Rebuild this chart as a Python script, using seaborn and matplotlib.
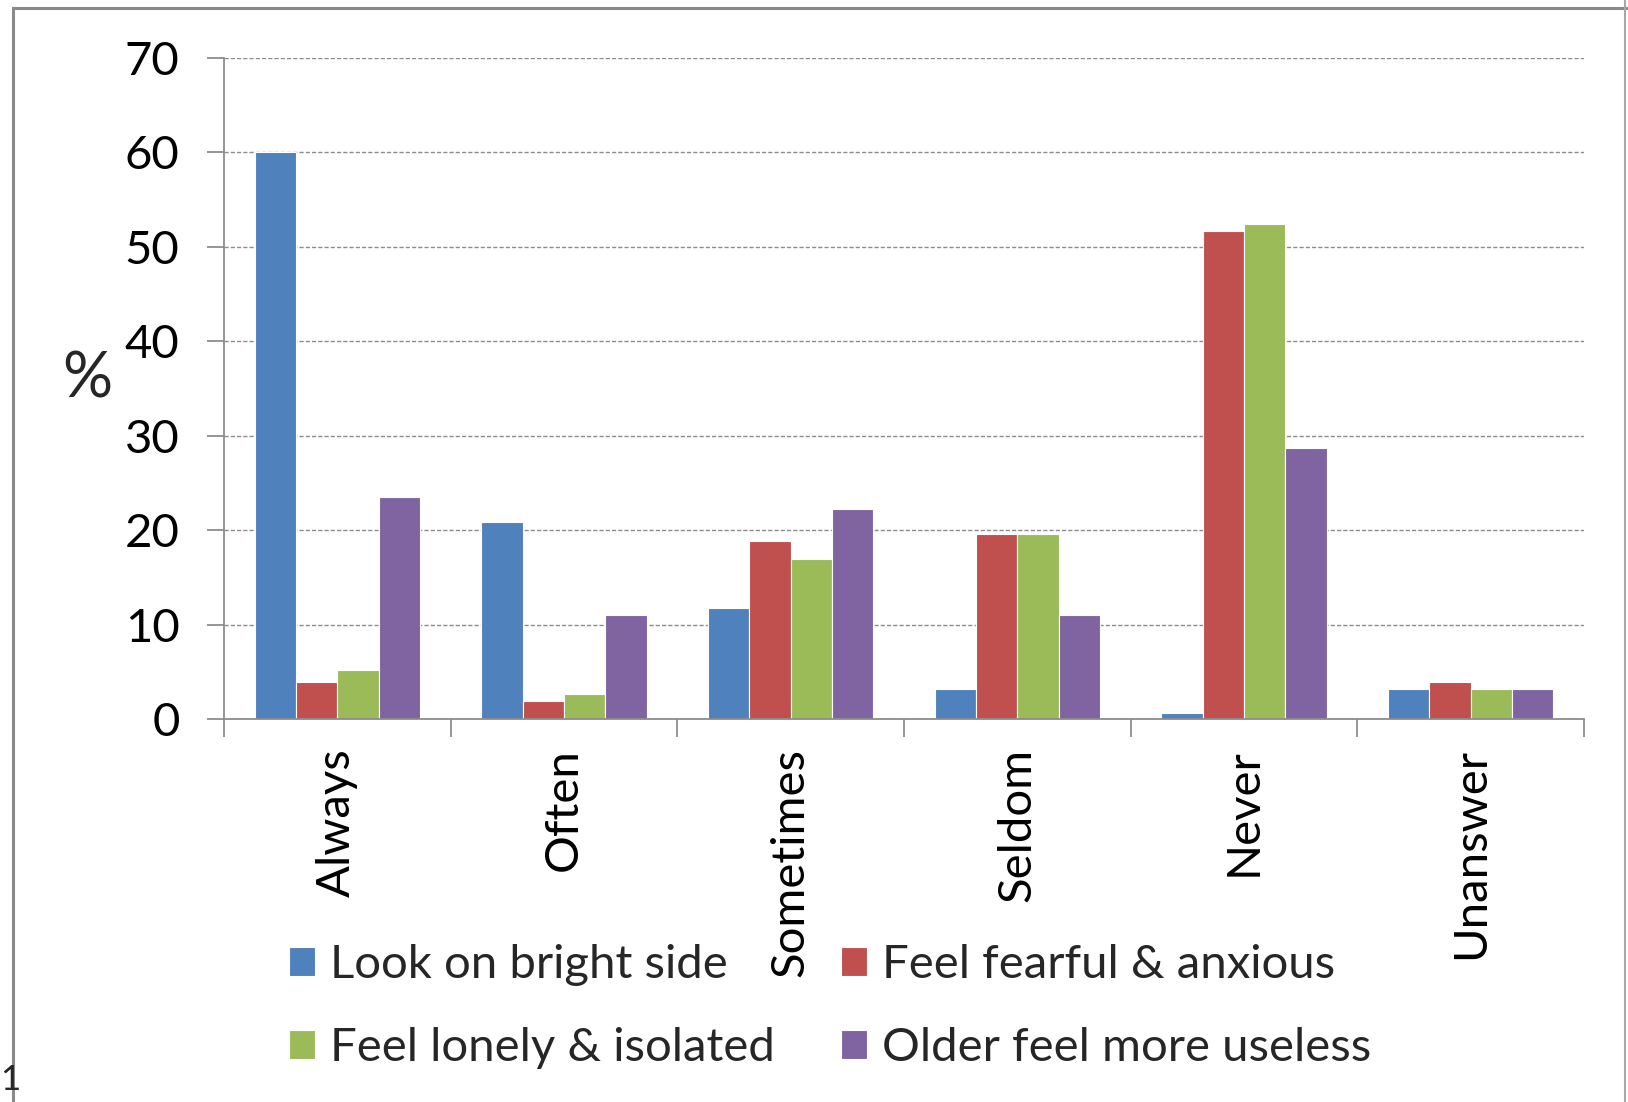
import matplotlib
matplotlib.use("Agg")
import matplotlib.pyplot as plt
from matplotlib.patches import Rectangle
import seaborn as sns
import pandas as pd

categories = ["Always", "Often", "Sometimes", "Seldom", "Never", "Unanswer"]
series_names = ["Look on bright side", "Feel fearful & anxious",
                "Feel lonely & isolated", "Older feel more useless"]
bright_side = [60.0, 20.9, 11.8, 3.2, 0.6, 3.2]
fearful = [3.9, 1.9, 18.9, 19.6, 51.7, 3.9]
lonely = [5.2, 2.6, 16.9, 19.6, 52.4, 3.2]
useless = [23.5, 11.0, 22.2, 11.0, 28.7, 3.2]
y_ticks = [0, 10, 20, 30, 40, 50, 60, 70]

colors = ["#4F81BD", "#C0504D", "#9BBB59", "#8064A2"]

rows = []
for name, vals in zip(series_names, [bright_side, fearful, lonely, useless]):
    for cat, v in zip(categories, vals):
        rows.append({"category": cat, "series": name, "value": v})
df = pd.DataFrame(rows)

sns.set_theme(style="white")
plt.rcParams["font.family"] = ["Lato", "DejaVu Sans"]

W, H = 1628, 1102
fig = plt.figure(figsize=(W / 100, H / 100), dpi=100)
fig.patch.set_facecolor("white")

ax = fig.add_axes([224 / W, 1 - 719 / H, (1584 - 224) / W, (719 - 58) / H])
sns.barplot(data=df, x="category", y="value", hue="series", order=categories,
            hue_order=series_names, palette=colors, saturation=1, width=0.73,
            gap=0, edgecolor="white", linewidth=0.8, ax=ax, legend=True)

ax.set_xlim(-0.5, len(categories) - 0.5)
ax.set_ylim(0, 70)
ax.set_yticks(y_ticks)
ax.yaxis.grid(True, linestyle=(0, (3, 1.5)), color="#8c8c8c", linewidth=1.0)
ax.set_axisbelow(True)
ax.set_xlabel("")
ax.set_ylabel("")

for s in ["top", "right"]:
    ax.spines[s].set_visible(False)
for s in ["left", "bottom"]:
    ax.spines[s].set_color("#8c8c8c")
    ax.spines[s].set_linewidth(1.3)

tick_fs = 34
ax.tick_params(axis="y", which="major", length=12, width=1.3, color="#8c8c8c",
               direction="out", pad=20, labelsize=tick_fs, left=True)
ax.set_xticks(range(len(categories)))
ax.set_xticklabels(categories, rotation=90, fontsize=tick_fs, va="top", ha="center")
ax.tick_params(axis="x", which="major", length=0, pad=21)
ax.set_xticks([i - 0.5 for i in range(len(categories) + 1)], minor=True)
ax.tick_params(axis="x", which="minor", length=13, width=1.3, color="#8c8c8c",
               direction="out", bottom=True)
for lbl in ax.get_yticklabels() + ax.get_xticklabels():
    lbl.set_color("black")

fig.text(87 / W, 1 - 380 / H, "%", fontsize=45, ha="center", va="center")

handles, labels = ax.get_legend_handles_labels()
ax.get_legend().remove()
order = [0, 2, 1, 3]
fig.legend([handles[i] for i in order], [labels[i] for i in order],
           ncol=2, frameon=False, fontsize=tick_fs,
           loc="upper left", bbox_to_anchor=(289 / W, 1 - 944 / H),
           handlelength=0.55, handleheight=0.55, handletextpad=0.32,
           columnspacing=1.4, labelspacing=0.87, borderaxespad=0, borderpad=0)

fig.patches.append(Rectangle((13 / W, -0.05), 2.0, 1 - 8 / H + 0.05,
                             transform=fig.transFigure, fill=False,
                             edgecolor="#8a8a8a", linewidth=2.2))
fig.patches.append(Rectangle((1625 / W, -0.05), 0.1, 1.1, transform=fig.transFigure,
                             fill=False, edgecolor="#a8a8a8", linewidth=1.5))
fig.text(0, 1 - 1090 / H, "1", fontsize=25, ha="left", va="baseline")

fig.savefig("out.png", dpi=100, facecolor="white")
